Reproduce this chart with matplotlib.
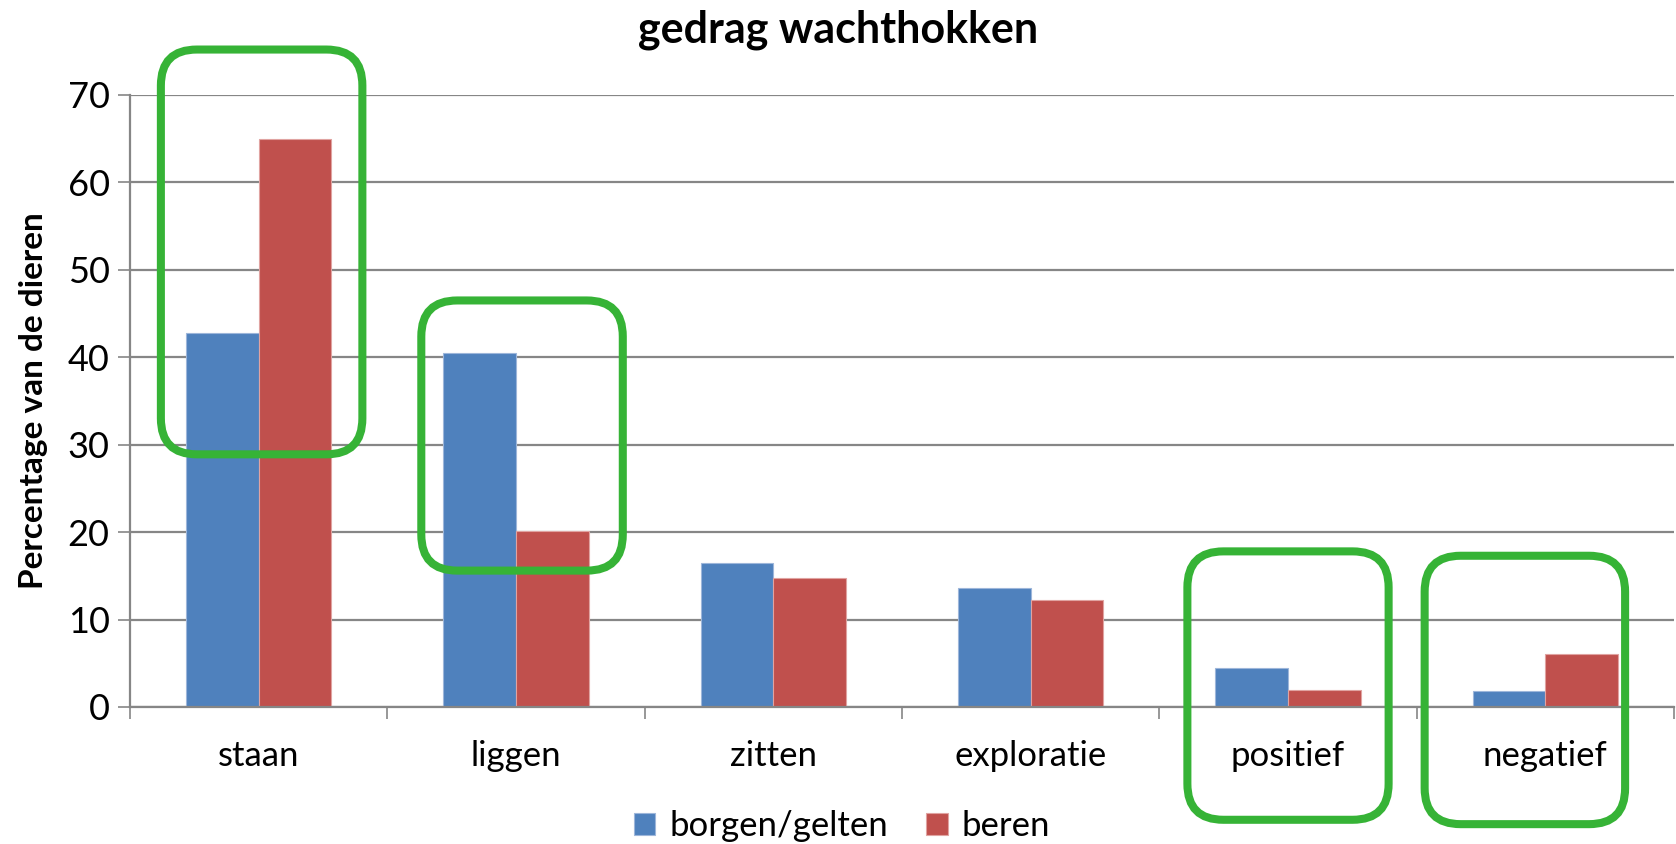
import matplotlib
matplotlib.use("Agg")
import matplotlib.pyplot as plt
from matplotlib.patches import FancyBboxPatch
import numpy as np

categories = ["staan", "liggen", "zitten", "exploratie", "positief", "negatief"]
borgen_gelten = [42.8, 40.5, 16.5, 13.6, 4.5, 1.8]
beren = [65.0, 20.1, 14.8, 12.2, 2.0, 6.1]
series_names = ["borgen/gelten", "beren"]
yticks = [0, 10, 20, 30, 40, 50, 60, 70]

# highlight boxes (x0, x1, y0, y1) in data coordinates
highlight_boxes = [(-0.38, 0.403, 28.9, 75.2),
                   (0.632, 1.415, 15.6, 46.5),
                   (3.609, 4.391, -12.9, 17.8),
                   (4.531, 5.310, -13.4, 17.3)]

plt.rcParams['font.family'] = ['Lato', 'DejaVu Sans']

W, H = 1676, 844
fig = plt.figure(figsize=(W/100, H/100), dpi=100)
ax = fig.add_axes([130/W, 1-707/H, (1674-130)/W, (707-95)/H])

blue = "#4F81BD"
red = "#C0504D"
grid = "#868686"
bw = 0.283
x = np.arange(len(categories))
ax.bar(x - bw/2, borgen_gelten, width=bw, color=blue, edgecolor="#9DB6DA", linewidth=0.8, zorder=2, label=series_names[0])
ax.bar(x + bw/2, beren, width=bw, color=red, edgecolor="#E0A3A1", linewidth=0.8, zorder=2, label=series_names[1])

ax.set_xlim(-0.5, len(categories) - 0.5)
ax.set_ylim(0, 70)
ax.set_yticks(yticks)
ax.yaxis.grid(True, color=grid, linewidth=1.6, zorder=0)
ax.set_axisbelow(True)
for s in ["top", "right"]:
    ax.spines[s].set_visible(False)
for s in ["left", "bottom"]:
    ax.spines[s].set_color(grid)
    ax.spines[s].set_linewidth(1.6)

ax.tick_params(axis="y", direction="out", length=8.6, width=1.2, color=grid, labelsize=26, pad=6)
ax.set_xticks(np.arange(len(categories) + 1) - 0.5)
ax.set_xticklabels([])
ax.tick_params(axis="x", which="major", direction="out", length=8.6, width=1.2, color=grid)
ax.set_xticks(x, minor=True)
ax.set_xticklabels(categories, minor=True, fontsize=25)
ax.tick_params(axis="x", which="minor", length=0, pad=24)

ax.set_ylabel("Percentage van de dieren", fontsize=24, fontweight="bold", labelpad=14)
fig.text(0.5, 1 - 30/H, "gedrag wachthokken", ha="center", va="center", fontsize=31, fontweight="bold")

leg = fig.legend(loc="center", bbox_to_anchor=(842/W, 1 - 826/H), ncol=2, frameon=False,
                 fontsize=25, handlelength=0.62, handleheight=0.62, columnspacing=1.1, handletextpad=0.4)

# rounded highlight boxes
fig.canvas.draw()
p0 = ax.transData.transform((0, 0))
p1 = ax.transData.transform((1, 1))
px_per_x = p1[0] - p0[0]
px_per_y = p1[1] - p0[1]
aspect = px_per_x / px_per_y
r = 36 / px_per_x
for (x0, x1, y0, y1) in highlight_boxes:
    box = FancyBboxPatch((x0, y0), x1 - x0, y1 - y0,
                         boxstyle=f"round,pad=0,rounding_size={r}",
                         mutation_aspect=aspect, fill=False, edgecolor="#36B336",
                         linewidth=5.8, clip_on=False, zorder=5)
    ax.add_patch(box)

fig.savefig("out.png", dpi=100)
